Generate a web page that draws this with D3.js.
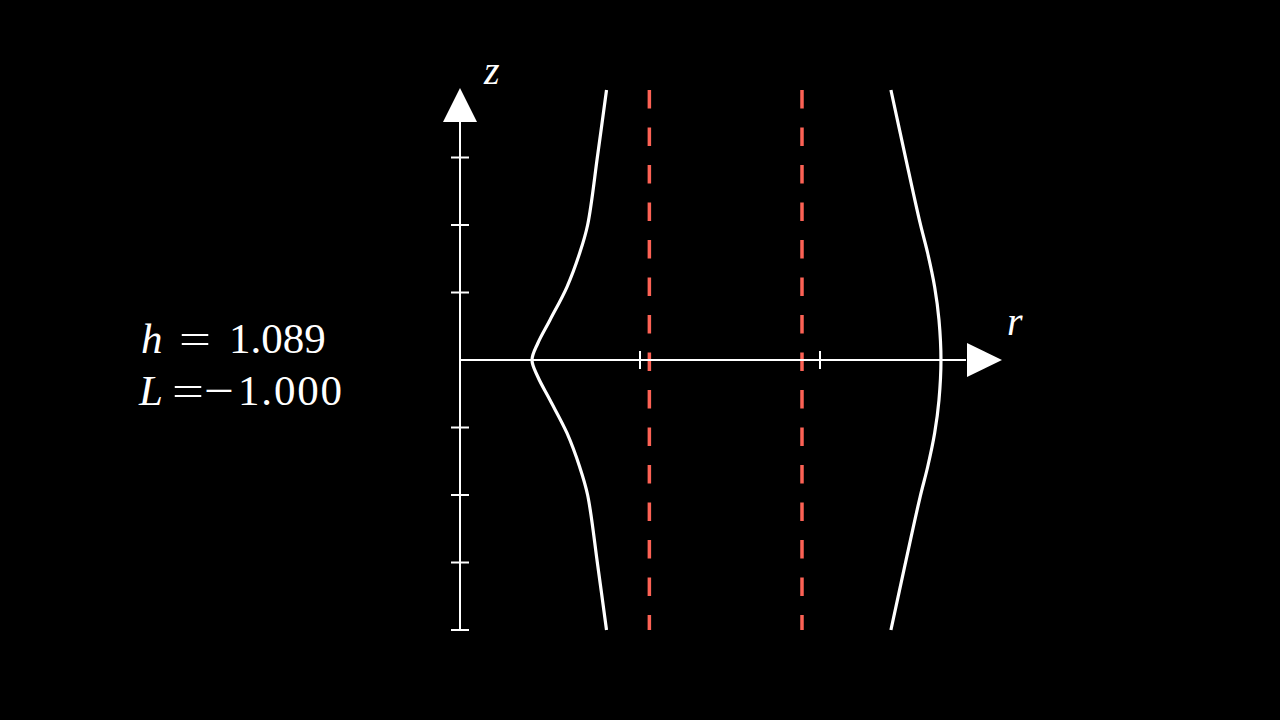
<!DOCTYPE html>
<html>
<head>
<meta charset="utf-8">
<script src="https://cdn.jsdelivr.net/npm/d3@7"></script>
<style>
  html, body { margin: 0; padding: 0; background: #000; }
  svg { display: block; }
</style>
</head>
<body>
<svg id="chart" width="1280" height="720"></svg>
<script>
// ---- data ----
const innerZ = [4, 3.04, 2.0, 1.585, 1.081, 0.593, 0.252, 0, -0.252, -0.593, -1.081, -1.585, -2.0, -3.04, -4];
const innerR = [0.814, 0.765, 0.709, 0.665, 0.594, 0.500, 0.433, 0.400, 0.433, 0.500, 0.594, 0.665, 0.709, 0.765, 0.814];
const outerZ = [4, 3.04, 2.03, 1.585, 1.081, 0.593, 0, -0.593, -1.081, -1.585, -2.03, -3.04, -4];
const outerR = [2.394, 2.472, 2.556, 2.598, 2.637, 2.661, 2.672, 2.661, 2.637, 2.598, 2.556, 2.472, 2.394];
const dashedR = [1.052, 1.900];
const rTicks  = [1, 2];
const zTicks  = [-4, -3, -2, -1, 1, 2, 3];
const labelH  = "1.089";
const labelL  = "1.000";

// ---- scales ----
const x = d3.scaleLinear().domain([0, 3]).range([460, 1000]);
const y = d3.scaleLinear().domain([-4, 4]).range([630, 90]);

const svg = d3.select("#chart");
svg.append("rect").attr("width", 1280).attr("height", 720).attr("fill", "#000");

const white = "#ffffff";
const red = "#FC6255";

// dashed vertical lines
svg.selectAll("line.dash").data(dashedR).enter().append("line")
  .attr("class", "dash")
  .attr("x1", d => x(d)).attr("x2", d => x(d))
  .attr("y1", y(4)).attr("y2", y(-4))
  .attr("stroke", red).attr("stroke-width", 3.5)
  .attr("stroke-dasharray", "18.5 19");

// axes lines
svg.append("line")
  .attr("x1", x(0)).attr("x2", x(3) - 34)
  .attr("y1", y(0)).attr("y2", y(0))
  .attr("stroke", white).attr("stroke-width", 2);
svg.append("line")
  .attr("x1", x(0)).attr("x2", x(0))
  .attr("y1", y(-4)).attr("y2", y(4) + 32)
  .attr("stroke", white).attr("stroke-width", 2);

// ticks
svg.selectAll("line.rtick").data(rTicks).enter().append("line")
  .attr("x1", d => x(d)).attr("x2", d => x(d))
  .attr("y1", y(0) - 9).attr("y2", y(0) + 9)
  .attr("stroke", white).attr("stroke-width", 2);
svg.selectAll("line.ztick").data(zTicks).enter().append("line")
  .attr("x1", x(0) - 9).attr("x2", x(0) + 9)
  .attr("y1", d => y(d)).attr("y2", d => y(d))
  .attr("stroke", white).attr("stroke-width", 2);

// arrow heads
const rTip = x(3) + 2, rBase = rTip - 35;
svg.append("path")
  .attr("d", `M${rTip},${y(0)} L${rBase},${y(0) - 17} L${rBase},${y(0) + 17} Z`)
  .attr("fill", white);
const zTip = y(4) - 2, zBase = zTip + 34;
svg.append("path")
  .attr("d", `M${x(0)},${zTip} L${x(0) - 17},${zBase} L${x(0) + 17},${zBase} Z`)
  .attr("fill", white);

// curves
const line = d3.line().x(d => x(d[0])).y(d => y(d[1])).curve(d3.curveCatmullRom.alpha(0.5));
[[innerR, innerZ], [outerR, outerZ]].forEach(([rs, zs]) => {
  const pts = rs.map((r, i) => [r, zs[i]]);
  svg.append("path")
    .datum(pts)
    .attr("d", line)
    .attr("fill", "none")
    .attr("stroke", white).attr("stroke-width", 3.2)
    .attr("stroke-linejoin", "round");
});

// axis labels
const serif = "'Liberation Serif', 'DejaVu Serif', serif";
svg.append("text").attr("x", 484).attr("y", 84)
  .attr("font-family", serif).attr("font-style", "italic").attr("font-size", 40)
  .attr("fill", white).text("z");
svg.append("text").attr("x", 1007).attr("y", 335)
  .attr("font-family", serif).attr("font-style", "italic").attr("font-size", 40)
  .attr("fill", white).text("r");

// parameter labels
function addText(xp, yp, txt, italic, len, adj) {
  const t = svg.append("text").attr("x", xp).attr("y", yp)
    .attr("font-family", serif).attr("font-size", 43)
    .attr("font-style", italic ? "italic" : "normal")
    .attr("fill", white).text(txt);
  if (len) t.attr("textLength", len).attr("lengthAdjust", adj || "spacingAndGlyphs");
}
addText(141, 353, "h", true);
addText(179, 353, "=", false, 32);
addText(229, 353, labelH, false);
addText(139, 405, "L", true);
addText(172, 405, "=", false, 32);
addText(204, 405, "\u2212", false, 30);
addText(238, 405, labelL, false, 104, "spacing");
</script>
</body>
</html>
